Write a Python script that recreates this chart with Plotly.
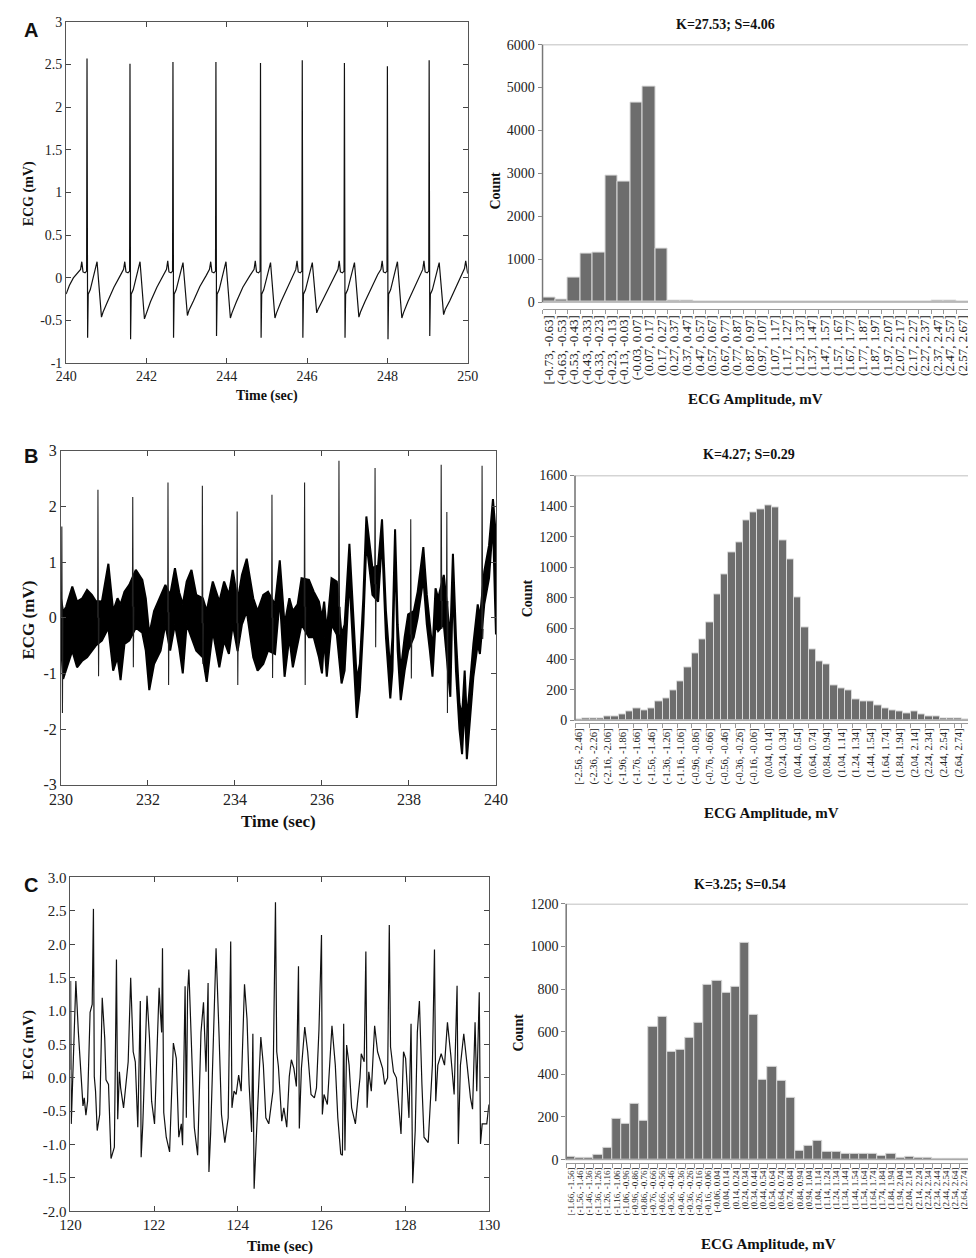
import plotly.graph_objects as go

# ---------------- Panel A : ECG trace (time s, mV) ----------------
A_points = [
    (240.00, -0.19), (240.08, -0.09), (240.18, 0.00), (240.28, 0.06), (240.36, 0.10),
    (240.39, 0.19), (240.42, 0.07), (240.47, 0.06), (240.51, 0.08), (240.52, 2.57), (240.535, -0.70),
    (240.55, -0.19), (240.60, -0.14), (240.77, 0.19), (240.88, -0.46), (240.92, -0.40), (241.03, -0.28),
    (241.19, -0.11), (241.35, 0.03),
    (241.43, 0.10), (241.46, 0.19), (241.49, 0.07), (241.54, 0.06), (241.58, 0.08), (241.59, 2.51),
    (241.605, -0.72), (241.62, -0.19), (241.67, -0.14), (241.84, 0.19), (241.95, -0.48), (241.99, -0.42),
    (242.10, -0.28), (242.26, -0.11), (242.42, 0.03),
    (242.50, 0.10), (242.53, 0.20), (242.56, 0.07), (242.61, 0.06), (242.65, 0.08), (242.66, 2.53),
    (242.675, -0.70), (242.69, -0.19), (242.74, -0.14), (242.91, 0.18), (243.02, -0.44), (243.06, -0.38),
    (243.17, -0.27), (243.33, -0.10), (243.49, 0.03),
    (243.57, 0.10), (243.60, 0.19), (243.63, 0.07), (243.68, 0.06), (243.72, 0.08), (243.73, 2.53),
    (243.745, -0.68), (243.76, -0.19), (243.81, -0.14), (243.98, 0.19), (244.09, -0.47), (244.13, -0.41),
    (244.24, -0.28), (244.40, -0.11), (244.58, 0.03),
    (244.68, 0.10), (244.71, 0.20), (244.74, 0.07), (244.79, 0.06), (244.83, 0.08), (244.84, 2.52),
    (244.855, -0.70), (244.87, -0.19), (244.92, -0.14), (245.09, 0.18), (245.20, -0.47), (245.24, -0.41),
    (245.35, -0.28), (245.51, -0.11), (245.65, 0.04),
    (245.72, 0.10), (245.75, 0.20), (245.78, 0.07), (245.83, 0.06), (245.87, 0.08), (245.88, 2.55),
    (245.895, -0.70), (245.91, -0.19), (245.96, -0.14), (246.13, 0.18), (246.24, -0.41), (246.28, -0.36),
    (246.39, -0.26), (246.55, -0.10), (246.70, 0.03),
    (246.77, 0.10), (246.80, 0.20), (246.83, 0.07), (246.88, 0.06), (246.92, 0.08), (246.93, 2.52),
    (246.945, -0.70), (246.96, -0.19), (247.01, -0.14), (247.18, 0.18), (247.29, -0.46), (247.33, -0.40),
    (247.44, -0.28), (247.60, -0.11), (247.76, 0.04),
    (247.84, 0.10), (247.87, 0.20), (247.90, 0.07), (247.95, 0.06), (247.99, 0.08), (248.00, 2.48),
    (248.015, -0.72), (248.03, -0.19), (248.08, -0.14), (248.25, 0.19), (248.36, -0.47), (248.40, -0.41),
    (248.51, -0.28), (248.67, -0.11), (248.80, 0.03),
    (248.88, 0.10), (248.91, 0.20), (248.94, 0.07), (248.99, 0.06), (249.03, 0.08), (249.04, 2.55),
    (249.055, -0.68), (249.07, -0.19), (249.12, -0.14), (249.29, 0.18), (249.40, -0.43), (249.44, -0.37),
    (249.55, -0.27), (249.71, -0.10), (249.86, 0.05),
    (249.92, 0.11), (249.95, 0.20), (249.98, 0.10), (250.00, 0.05),
]
A_time = [p[0] for p in A_points]
A_ecg = [p[1] for p in A_points]

# ---------------- Panel B : noisy ECG band (time, upper, lower) ----------------
B_band = [
    (230.00, 0.35, -0.45), (230.05, 0.10, -1.10), (230.12, 0.20, -0.95), (230.26, 0.56, -0.59),
    (230.37, 0.29, -0.89), (230.49, 0.35, -0.77), (230.60, 0.50, -0.71), (230.71, 0.41, -0.59),
    (230.80, 0.30, -0.50), (230.94, 0.29, -0.41), (231.09, 0.97, -0.18), (231.20, 0.12, -0.95),
    (231.30, 0.35, -0.71), (231.37, 0.24, -1.12), (231.46, 0.47, -0.47), (231.57, 0.59, -0.41),
    (231.72, 0.86, -0.18), (231.87, 0.68, -0.27), (231.95, 0.35, -0.59), (232.03, -0.30, -1.30),
    (232.14, 0.12, -0.83), (232.29, 0.41, -0.59), (232.40, 0.59, -0.12), (232.51, 0.41, -0.59),
    (232.62, 0.89, -0.12), (232.72, 0.45, -0.55), (232.80, 0.24, -1.00), (232.89, 0.65, -0.12),
    (233.00, 0.86, -0.35), (233.11, 0.41, -0.59), (233.26, 0.35, -0.71), (233.35, 0.12, -1.15),
    (233.49, 0.65, -0.24), (233.64, 0.29, -0.89), (233.75, 0.65, -0.41), (233.86, 0.41, -0.65),
    (233.95, 0.86, -0.12), (234.06, 0.30, -0.60), (234.16, 0.77, -0.12), (234.27, 1.06, 0.12),
    (234.42, 0.35, -0.71), (234.52, 0.12, -0.95), (234.65, 0.41, -0.83), (234.76, 0.47, -0.59),
    (234.92, 0.24, -0.65), (235.03, 1.03, 0.35), (235.14, -0.12, -1.06), (235.25, 0.35, -0.35),
    (235.33, 0.12, -0.89), (235.44, 0.24, -0.47), (235.53, 0.71, -0.12), (235.70, 0.68, -0.35),
    (235.81, 0.47, -0.35), (235.93, 0.29, -0.71), (236.00, 0.00, -1.00), (236.05, 0.29, -0.35),
    (236.11, -0.24, -1.06), (236.22, 0.71, -0.12), (236.34, 0.65, -0.30), (236.45, -0.30, -1.18),
    (236.52, -0.12, -0.95), (236.63, 1.33, 0.71), (236.71, 0.24, -0.47), (236.80, -1.12, -1.80),
    (236.87, -0.83, -1.30), (236.95, 0.35, -0.12), (237.02, 1.82, 1.36), (237.10, 1.24, 0.83),
    (237.16, 0.89, 0.41), (237.29, 0.94, 0.29), (237.38, 1.77, 1.42), (237.47, 0.12, -0.35),
    (237.57, -0.95, -1.45), (237.62, -0.35, -0.95), (237.68, 1.59, 1.24), (237.74, -0.12, -0.59),
    (237.81, -0.95, -1.48), (237.90, -0.35, -0.95), (237.98, 0.06, -0.59), (238.11, 0.12, -0.35),
    (238.20, 0.47, 0.00), (238.33, 1.27, 0.71), (238.41, 0.41, -0.12), (238.48, -0.12, -0.59),
    (238.54, -0.59, -1.06), (238.61, 0.53, -0.12), (238.67, 0.35, -0.24), (238.80, 0.77, -0.12),
    (238.95, -0.35, -1.42), (239.01, 1.15, 0.65), (239.08, -0.35, -0.95), (239.16, -1.54, -2.00),
    (239.22, -1.77, -2.45), (239.28, -0.95, -1.54), (239.33, -1.83, -2.54), (239.39, -1.30, -1.95),
    (239.48, -0.47, -1.06), (239.58, 0.24, -0.47), (239.63, 0.00, -0.65), (239.73, 0.83, 0.24),
    (239.84, 1.30, 0.71), (239.93, 2.13, 1.71), (239.98, 1.65, 0.24), (240.00, 0.00, -0.30),
]
B_time = [p[0] for p in B_band]
B_upper = [p[1] for p in B_band]
B_lower = [p[2] for p in B_band]

# R spikes of panel B: (time, base, peak, trough)
B_spikes = [
    (230.02, 0.00, 1.64, -1.71), (230.85, 0.00, 2.30, -1.05), (231.65, 0.20, 2.17, -0.89),
    (232.46, 0.10, 2.43, -1.21), (233.25, -0.10, 2.37, -0.83), (234.05, -0.10, 1.91, -1.21),
    (234.85, 0.00, 2.21, -1.08), (235.60, 0.20, 2.43, -1.21), (236.39, 0.20, 2.82, -0.30),
    (237.22, 0.60, 2.69, -0.53), (238.04, -0.30, 1.77, -1.09), (238.74, 0.30, 2.75, -0.20),
    (238.87, 0.30, 1.90, -1.71), (239.68, -0.20, 2.73, -0.38),
]

# ---------------- Panel C : ECG trace ----------------
C_points = [
    (120.00, 0.12), (120.005, 1.45), (120.02, -0.69), (120.06, 0.00), (120.13, 1.45), (120.19, 0.68),
    (120.30, -0.42), (120.33, -0.30), (120.37, -0.56), (120.41, -0.35), (120.47, 0.98), (120.52, 1.10),
    (120.55, 2.53), (120.57, 0.02), (120.60, -0.20), (120.64, -0.79), (120.70, -0.55), (120.76, 1.20),
    (120.82, 0.59), (120.85, -0.03), (120.91, -0.10), (120.97, -1.21), (121.05, -1.04), (121.10, 1.77),
    (121.13, -0.62), (121.17, 0.09), (121.20, -0.15), (121.27, -0.45), (121.32, -0.15), (121.38, 0.24),
    (121.44, 1.50), (121.50, 0.39), (121.55, 0.24), (121.61, -0.74), (121.67, 1.15), (121.69, -1.19),
    (121.73, -0.69), (121.83, 1.23), (121.89, 0.59), (121.94, -0.35), (122.01, -0.69), (122.12, 1.35),
    (122.15, 0.98), (122.18, 0.68), (122.20, 1.94), (122.23, -0.52), (122.29, -0.89), (122.37, -1.11),
    (122.46, 0.52), (122.53, 0.29), (122.59, -0.89), (122.65, -0.69), (122.68, -1.01), (122.74, 1.37),
    (122.77, -0.60), (122.80, 1.28), (122.83, 1.62), (122.90, 0.19), (122.96, -0.74), (123.04, -1.16),
    (123.12, 0.68), (123.18, 1.13), (123.24, 0.09), (123.29, 1.42), (123.31, -1.41), (123.35, -0.84),
    (123.42, 0.68), (123.48, 1.94), (123.55, 0.68), (123.61, -0.55), (123.69, -0.97), (123.77, -0.60),
    (123.83, 2.04), (123.86, -0.45), (123.91, -0.20), (123.96, -0.25), (124.02, 0.04), (124.08, -0.20),
    (124.16, 1.40), (124.22, 0.88), (124.27, -0.10), (124.33, -0.81), (124.36, 0.66), (124.39, -1.66),
    (124.45, -0.79), (124.55, 0.61), (124.61, 0.19), (124.67, -0.60), (124.74, -0.69), (124.84, -0.20),
    (124.90, 2.63), (124.93, 0.39), (124.97, 0.17), (125.05, -0.65), (125.10, -0.45), (125.17, -0.74),
    (125.23, 0.02), (125.28, 0.27), (125.34, 0.14), (125.40, -0.13), (125.45, 1.67), (125.47, -0.76),
    (125.52, 0.14), (125.60, 0.76), (125.67, 0.39), (125.75, -0.25), (125.83, -0.30), (125.88, -0.15),
    (125.94, 0.73), (126.00, 2.14), (126.02, -0.55), (126.06, -0.25), (126.14, -0.40), (126.22, 0.49),
    (126.25, 0.78), (126.33, 0.19), (126.39, -0.60), (126.46, -1.14), (126.50, -1.16), (126.53, 0.81),
    (126.56, -1.09), (126.60, 0.49), (126.66, 0.19), (126.72, -0.45), (126.81, -0.69), (126.92, 0.00),
    (126.95, 0.36), (127.02, 0.24), (127.06, 1.89), (127.09, -0.45), (127.13, 0.09), (127.19, -0.20),
    (127.27, 0.78), (127.34, 0.39), (127.46, 0.14), (127.51, -0.10), (127.58, 0.00), (127.62, 2.29),
    (127.65, 0.46), (127.72, 0.09), (127.79, 0.00), (127.85, -0.45), (127.90, -0.84), (127.96, 0.39),
    (128.01, 0.29), (128.09, -0.60), (128.14, 0.81), (128.18, -1.58), (128.24, -0.79), (128.29, 0.68),
    (128.34, 1.15), (128.40, -0.10), (128.45, -0.89), (128.55, -0.97), (128.65, 0.19), (128.70, 1.92),
    (128.73, -0.35), (128.78, 0.19), (128.86, 0.36), (128.94, 0.19), (129.01, 0.83), (129.09, 0.34),
    (129.17, -0.25), (129.24, 1.38), (129.27, -0.99), (129.32, 0.19), (129.40, 0.66), (129.48, 0.19),
    (129.56, -0.30), (129.61, -0.47), (129.67, 0.83), (129.71, -0.20), (129.77, 1.28), (129.80, -0.99),
    (129.84, -0.69), (129.95, -0.69), (130.00, -0.40),
]
C_time = [p[0] for p in C_points]
C_ecg = [p[1] for p in C_points]

# ---------------- Histograms ----------------
A_bins = ["[-0.73, -0.63]", "(-0.63, -0.53]", "(-0.53, -0.43]", "(-0.43, -0.33]", "(-0.33, -0.23]",
          "(-0.23, -0.13]", "(-0.13, -0.03]", "(-0.03, 0.07]", "(0.07, 0.17]", "(0.17, 0.27]",
          "(0.27, 0.37]", "(0.37, 0.47]", "(0.47, 0.57]", "(0.57, 0.67]", "(0.67, 0.77]",
          "(0.77, 0.87]", "(0.87, 0.97]", "(0.97, 1.07]", "(1.07, 1.17]", "(1.17, 1.27]",
          "(1.27, 1.37]", "(1.37, 1.47]", "(1.47, 1.57]", "(1.57, 1.67]", "(1.67, 1.77]",
          "(1.77, 1.87]", "(1.87, 1.97]", "(1.97, 2.07]", "(2.07, 2.17]", "(2.17, 2.27]",
          "(2.27, 2.37]", "(2.37, 2.47]", "(2.47, 2.57]", "(2.57, 2.67]"]
A_counts = [100, 50, 560, 1130, 1160, 2950, 2810, 4650, 5010, 1250,
            40, 25, 15, 10, 10, 8, 8, 8, 8, 8,
            8, 8, 8, 8, 8, 8, 8, 10, 12, 15,
            20, 30, 40, 10]

B_bins = ["[-2.56, -2.46]", "(-2.46, -2.36]", "(-2.36, -2.26]", "(-2.26, -2.16]", "(-2.16, -2.06]",
          "(-2.06, -1.96]", "(-1.96, -1.86]", "(-1.86, -1.76]", "(-1.76, -1.66]", "(-1.66, -1.56]",
          "(-1.56, -1.46]", "(-1.46, -1.36]", "(-1.36, -1.26]", "(-1.26, -1.16]", "(-1.16, -1.06]",
          "(-1.06, -0.96]", "(-0.96, -0.86]", "(-0.86, -0.76]", "(-0.76, -0.66]", "(-0.66, -0.56]",
          "(-0.56, -0.46]", "(-0.46, -0.36]", "(-0.36, -0.26]", "(-0.26, -0.16]", "(-0.16, -0.06]",
          "(-0.06, 0.04]", "(0.04, 0.14]", "(0.14, 0.24]", "(0.24, 0.34]", "(0.34, 0.44]",
          "(0.44, 0.54]", "(0.54, 0.64]", "(0.64, 0.74]", "(0.74, 0.84]", "(0.84, 0.94]",
          "(0.94, 1.04]", "(1.04, 1.14]", "(1.14, 1.24]", "(1.24, 1.34]", "(1.34, 1.44]",
          "(1.44, 1.54]", "(1.54, 1.64]", "(1.64, 1.74]", "(1.74, 1.84]", "(1.84, 1.94]",
          "(1.94, 2.04]", "(2.04, 2.14]", "(2.14, 2.24]", "(2.24, 2.34]", "(2.34, 2.44]",
          "(2.44, 2.54]", "(2.54, 2.64]", "(2.64, 2.74]", "(2.74, 2.84]"]
B_counts = [5, 15, 10, 15, 25, 25, 35, 55, 80, 65,
            75, 120, 145, 195, 255, 345, 440, 530, 640, 820,
            950, 1100, 1165, 1305, 1355, 1375, 1405, 1390, 1175, 1050,
            805, 610, 460, 385, 365, 230, 210, 195, 135, 120,
            120, 100, 75, 65, 55, 45, 55, 40, 25, 25,
            15, 10, 10, 5]
B_shown_labels = B_bins[::2]

C_bins = ["[-1.66, -1.56]", "(-1.56, -1.46]", "(-1.46, -1.36]", "(-1.36, -1.26]", "(-1.26, -1.16]",
          "(-1.16, -1.06]", "(-1.06, -0.96]", "(-0.96, -0.86]", "(-0.86, -0.76]", "(-0.76, -0.66]",
          "(-0.66, -0.56]", "(-0.56, -0.46]", "(-0.46, -0.36]", "(-0.36, -0.26]", "(-0.26, -0.16]",
          "(-0.16, -0.06]", "(-0.06, 0.04]", "(0.04, 0.14]", "(0.14, 0.24]", "(0.24, 0.34]",
          "(0.34, 0.44]", "(0.44, 0.54]", "(0.54, 0.64]", "(0.64, 0.74]", "(0.74, 0.84]",
          "(0.84, 0.94]", "(0.94, 1.04]", "(1.04, 1.14]", "(1.14, 1.24]", "(1.24, 1.34]",
          "(1.34, 1.44]", "(1.44, 1.54]", "(1.54, 1.64]", "(1.64, 1.74]", "(1.74, 1.84]",
          "(1.84, 1.94]", "(1.94, 2.04]", "(2.04, 2.14]", "(2.14, 2.24]", "(2.24, 2.34]",
          "(2.34, 2.44]", "(2.44, 2.54]", "(2.54, 2.64]", "(2.64, 2.74]"]
C_counts = [12, 8, 8, 22, 57, 192, 170, 262, 180, 625,
            670, 505, 515, 573, 640, 820, 840, 783, 812, 1018,
            678, 375, 433, 370, 288, 42, 65, 87, 37, 37,
            27, 28, 25, 25, 18, 28, 10, 14, 10, 10,
            3, 3, 5, 2]

titles_K = ["K=27.53; S=4.06", "K=4.27; S=0.29", "K=3.25; S=0.54"]

# ---------------- Figure ----------------
W, H = 976, 1258
SERIF = "Liberation Serif, Times New Roman, serif"
SANS = "Liberation Sans, Arial, sans-serif"
fig = go.Figure()

def px_x(p):
    return p / W

def px_y(p):
    return 1 - p / H

# traces
fig.add_trace(go.Scatter(x=A_time, y=A_ecg, mode="lines", line=dict(color="#111111", width=1.2),
                         xaxis="x", yaxis="y", hoverinfo="skip"))

band_x = B_time + B_time[::-1]
band_y = B_upper + B_lower[::-1]
fig.add_trace(go.Scatter(x=band_x, y=band_y, mode="lines", fill="toself", fillcolor="#000000",
                         line=dict(color="#000000", width=2.0), xaxis="x3", yaxis="y3", hoverinfo="skip"))
sx, sy = [], []
for t, base, peak, trough in B_spikes:
    sx += [t - 0.008, t, t + 0.014, t + 0.024, None]
    sy += [base, peak, trough, base, None]
fig.add_trace(go.Scatter(x=sx, y=sy, mode="lines", line=dict(color="#222222", width=1.1),
                         xaxis="x3", yaxis="y3", hoverinfo="skip"))

fig.add_trace(go.Scatter(x=C_time, y=C_ecg, mode="lines", line=dict(color="#111111", width=1.2),
                         xaxis="x5", yaxis="y5", hoverinfo="skip"))

bar_style = dict(marker=dict(color="#6d6d6d", line=dict(color="#d9d9d9", width=1)), hoverinfo="skip")
fig.add_trace(go.Bar(x=A_bins, y=A_counts, xaxis="x2", yaxis="y2", **bar_style))
fig.add_trace(go.Bar(x=B_bins, y=B_counts, xaxis="x4", yaxis="y4", **bar_style))
fig.add_trace(go.Bar(x=C_bins, y=C_counts, xaxis="x6", yaxis="y6", **bar_style))

def line_axis(domain, rng, tickvals, ticktext, size, anchor):
    return dict(domain=domain, range=rng, tickmode="array", tickvals=tickvals, ticktext=ticktext,
                ticks="inside", ticklen=5, tickcolor="#444", mirror="allticks", showline=True,
                linecolor="#555", linewidth=1, showgrid=False, zeroline=False,
                tickfont=dict(family=SERIF, size=size, color="#222"), anchor=anchor)

fig.update_layout(
    xaxis=line_axis([px_x(47.3), px_x(459)], [240, 250], [240, 242, 244, 246, 248, 250],
                    ["240", "242", "244", "246", "248", "250"], 14, "y"),
    yaxis=line_axis([px_y(352), px_y(6)], [-1, 3], [-1, -0.5, 0, 0.5, 1, 1.5, 2, 2.5, 3],
                    ["-1", "-0.5", "0", "0.5", "1", "1.5", "2", "2.5", "3"], 14, "x"),
    xaxis3=line_axis([px_x(42), px_x(488)], [230, 240], [230, 232, 234, 236, 238, 240],
                     ["230", "232", "234", "236", "238", "240"], 16, "y3"),
    yaxis3=line_axis([px_y(779.3), px_y(440.7)], [-3, 3], [-3, -2, -1, 0, 1, 2, 3],
                     ["-3", "-2", "-1", "0", "1", "2", "3"], 16, "x3"),
    xaxis5=line_axis([px_x(51.7), px_x(480.7)], [120, 130], [120, 122, 124, 126, 128, 130],
                     ["120", "122", "124", "126", "128", "130"], 15, "y5"),
    yaxis5=line_axis([px_y(1211.7), px_y(873.3)], [-2, 3],
                     [-2, -1.5, -1, -0.5, 0, 0.5, 1, 1.5, 2, 2.5, 3],
                     ["-2.0", "-1.5", "-1.0", "-0.5", "0.0", "0.5", "1.0", "1.5", "2.0", "2.5", "3.0"],
                     15, "x5"),
)

def hist_x(domain, anchor, size, labels):
    return dict(domain=domain, type="category", tickangle=-90, tickson="boundaries", ticks="outside",
                ticklen=4, tickcolor="#999", showline=True, linecolor="#999", linewidth=1.2,
                showgrid=False, zeroline=False, tickfont=dict(family=SERIF, size=size, color="#222"),
                tickmode="array", tickvals=labels, ticktext=labels, anchor=anchor)

def hist_y(domain, rng, vals, anchor):
    return dict(domain=domain, range=rng, tickmode="array", tickvals=vals, ticktext=[str(v) for v in vals],
                ticks="outside", ticklen=4, tickcolor="#888", showline=False, showgrid=False,
                zeroline=False, tickfont=dict(family=SERIF, size=14, color="#222"), anchor=anchor)

fig.update_layout(
    xaxis2=hist_x([px_x(535.7), px_x(973)], "y2", 13, A_bins),
    yaxis2=hist_y([px_y(297), px_y(29)], [-161, 6000], [0, 1000, 2000, 3000, 4000, 5000, 6000], "x2"),
    xaxis4=hist_x([px_x(569), px_x(973)], "y4", 10.5, B_shown_labels),
    yaxis4=hist_y([px_y(717), px_y(465.7)], [-20, 1600], [0, 200, 400, 600, 800, 1000, 1200, 1400, 1600], "x4"),
    xaxis6=hist_x([px_x(560), px_x(973)], "y6", 9, C_bins),
    yaxis6=hist_y([px_y(1162.5), px_y(900)], [-15, 1200], [0, 200, 400, 600, 800, 1000, 1200], "x6"),
)

shapes = []
for xr, yr, top in [("x2", "y2", 6000), ("x4", "y4", 1600), ("x6", "y6", 1200)]:
    shapes.append(dict(type="rect", xref=xr + " domain", yref=yr, x0=0, x1=1, y0=0, y1=top,
                       line=dict(color="#aaaaaa", width=1.5), fillcolor="rgba(0,0,0,0)", layer="above"))
    shapes.append(dict(type="line", xref=xr + " domain", yref=yr, x0=0, x1=0, y0=0, y1=top,
                       line=dict(color="#777777", width=1.2), layer="above"))

ann = []
def add_text(text, x, y, size, angle=0, family=SERIF, bold=True, xanchor="center"):
    ann.append(dict(text=("<b>%s</b>" % text) if bold else text, x=px_x(x), y=px_y(y),
                    xref="paper", yref="paper", showarrow=False, textangle=angle, xanchor=xanchor,
                    yanchor="middle", font=dict(family=family, size=size, color="#111")))

add_text("A", 2, 14, 20, family=SANS, xanchor="left")
add_text("B", 2, 446, 20, family=SANS, xanchor="left")
add_text("C", 2, 881, 20, family=SANS, xanchor="left")

add_text("Time (sec)", 253, 385, 14)
add_text("ECG (mV)", 9, 180, 14, angle=-90)
add_text("Count", 488, 177, 14, angle=-90)
add_text(titles_K[0], 723, 9, 14)
add_text("ECG Amplitude, mV", 754, 388, 15)

add_text("Time (sec)", 265, 817, 17)
add_text("ECG (mV)", 9, 612, 17, angle=-90)
add_text("Count", 520, 590, 14, angle=-90)
add_text(titles_K[1], 747, 445, 14)
add_text("ECG Amplitude, mV", 770, 808, 15)

add_text("Time (sec)", 267, 1247, 15)
add_text("ECG (mV)", 9, 1043, 15, angle=-90)
add_text("Count", 511, 1030, 14, angle=-90)
add_text(titles_K[2], 738, 880, 14)
add_text("ECG Amplitude, mV", 767, 1245, 15)

fig.update_layout(width=W, height=H, margin=dict(l=0, r=0, t=0, b=0), showlegend=False,
                  plot_bgcolor="white", paper_bgcolor="white", bargap=0,
                  shapes=shapes, annotations=ann)

fig.write_html("out.html")
